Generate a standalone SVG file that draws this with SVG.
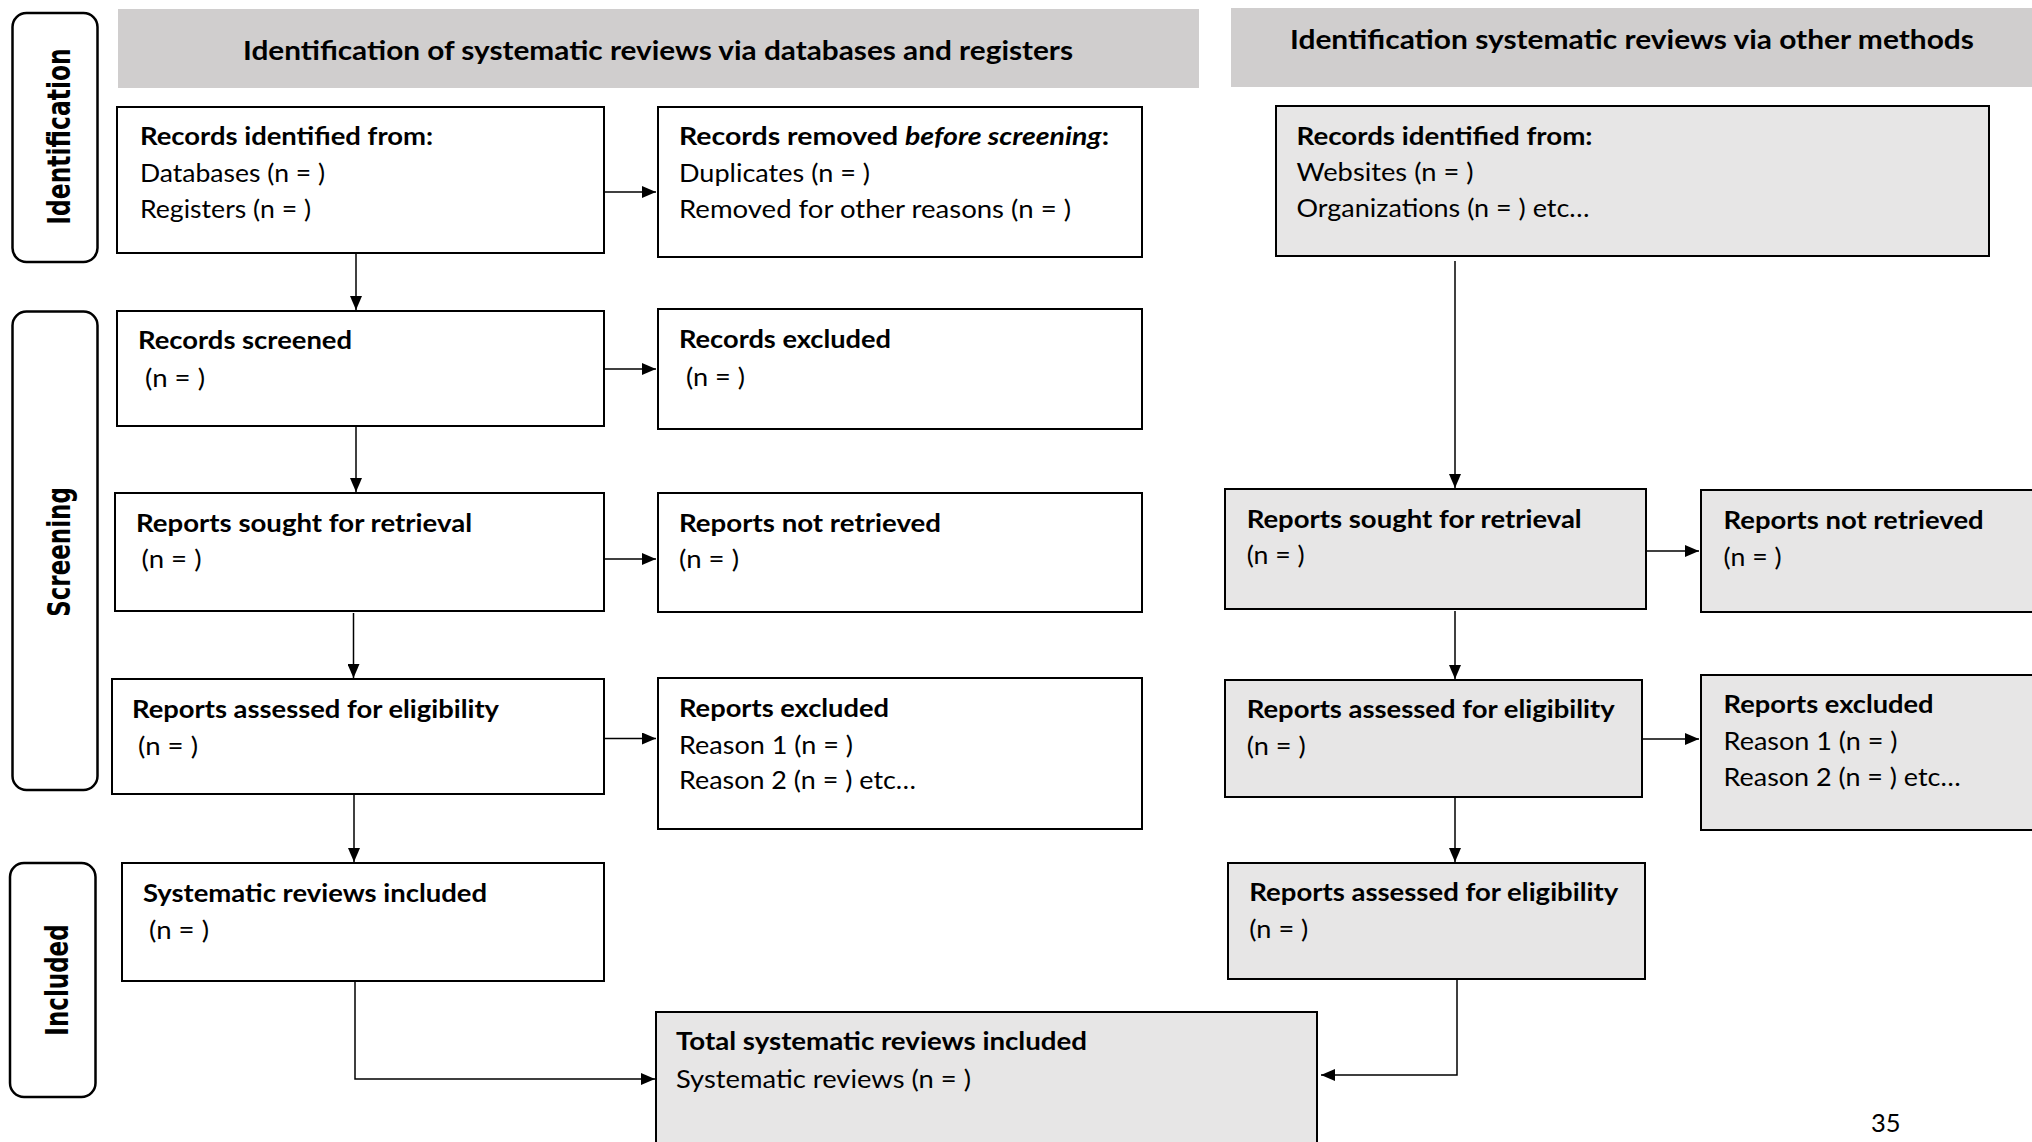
<svg xmlns="http://www.w3.org/2000/svg" width="2032" height="1142" viewBox="0 0 2032 1142">
<style>
.bg{fill:#ffffff}
.hdr{fill:#D0CECE}
.box{fill:#ffffff;stroke:#000;stroke-width:2}
.gbox{fill:#E7E6E6;stroke:#000;stroke-width:2}
.lab{fill:none;stroke:#000;stroke-width:2.5}
.t{font-family:Lato,"Liberation Sans",sans-serif;font-size:25.5px;fill:#000}
.b{font-weight:bold}
.h{font-family:Lato,"Liberation Sans",sans-serif;font-size:26.5px;font-weight:bold;fill:#000}
.side{font-family:"DejaVu Sans",sans-serif;font-weight:bold;font-size:31.5px;fill:#000}
.conn{fill:none;stroke:#000;stroke-width:1.5}
</style>
<defs>
<marker id="ah" markerUnits="userSpaceOnUse" markerWidth="14" markerHeight="12" viewBox="0 0 14 12" refX="14" refY="6" orient="auto">
<path d="M0,0 L14,6 L0,12 z" fill="#000"/>
</marker>
</defs>
<rect class="bg" x="0" y="0" width="2032" height="1142"/>

<g id="header-left">
<rect class="hdr" x="118" y="9" width="1081" height="79"/>
<text class="h" x="658" y="59.5" text-anchor="middle" textLength="830" lengthAdjust="spacingAndGlyphs">Identification of systematic reviews via databases and registers</text>
</g>
<g id="header-right">
<rect class="hdr" x="1231" y="8" width="810" height="79"/>
<text class="h" x="1632" y="48.5" text-anchor="middle" textLength="684" lengthAdjust="spacingAndGlyphs">Identification systematic reviews via other methods</text>
</g>

<g id="label-identification">
<rect class="lab" x="12.5" y="13" width="85" height="249" rx="14"/>
<text class="side" transform="translate(70,136.5) rotate(-90) scale(0.745,1)" text-anchor="middle">Identification</text>
</g>
<g id="label-screening">
<rect class="lab" x="12.5" y="311.5" width="85" height="478.5" rx="14"/>
<text class="side" transform="translate(70,552) rotate(-90) scale(0.73,1)" text-anchor="middle">Screening</text>
</g>
<g id="label-included">
<rect class="lab" x="10" y="863" width="85.5" height="234" rx="14"/>
<text class="side" transform="translate(67.5,980) rotate(-90) scale(0.73,1)" text-anchor="middle">Included</text>
</g>

<g id="box-records-identified">
<rect class="box" x="117" y="107" width="487" height="146"/>
<text class="t b" x="140" y="145" textLength="293" lengthAdjust="spacingAndGlyphs">Records identified from:</text>
<text class="t" x="140" y="181.5" textLength="185" lengthAdjust="spacingAndGlyphs">Databases (n = )</text>
<text class="t" x="140" y="218" textLength="171" lengthAdjust="spacingAndGlyphs">Registers (n = )</text>
</g>
<g id="box-records-removed">
<rect class="box" x="658" y="107" width="484" height="150"/>
<text class="t" x="679" y="145" textLength="430" lengthAdjust="spacingAndGlyphs"><tspan class="b">Records removed </tspan><tspan class="b" font-style="italic">before screening</tspan><tspan class="b">:</tspan></text>
<text class="t" x="679" y="181.5" textLength="191" lengthAdjust="spacingAndGlyphs">Duplicates (n = )</text>
<text class="t" x="679" y="218" textLength="392" lengthAdjust="spacingAndGlyphs">Removed for other reasons (n = )</text>
</g>
<g id="box-records-screened">
<rect class="box" x="117" y="311" width="487" height="115"/>
<text class="t b" x="138" y="349" textLength="214" lengthAdjust="spacingAndGlyphs">Records screened</text>
<text class="t" x="145" y="386.5" textLength="60" lengthAdjust="spacingAndGlyphs">(n = )</text>
</g>
<g id="box-records-excluded">
<rect class="box" x="658" y="309" width="484" height="120"/>
<text class="t b" x="679" y="348" textLength="212" lengthAdjust="spacingAndGlyphs">Records excluded</text>
<text class="t" x="686" y="385.5" textLength="59" lengthAdjust="spacingAndGlyphs">(n = )</text>
</g>
<g id="box-reports-sought">
<rect class="box" x="115" y="493" width="489" height="118"/>
<text class="t b" x="136" y="531.5" textLength="336" lengthAdjust="spacingAndGlyphs">Reports sought for retrieval</text>
<text class="t" x="141.5" y="568" textLength="60" lengthAdjust="spacingAndGlyphs">(n = )</text>
</g>
<g id="box-reports-not-retrieved">
<rect class="box" x="658" y="493" width="484" height="119"/>
<text class="t b" x="679" y="531.5" textLength="262" lengthAdjust="spacingAndGlyphs">Reports not retrieved</text>
<text class="t" x="679" y="568" textLength="60" lengthAdjust="spacingAndGlyphs">(n = )</text>
</g>
<g id="box-reports-assessed">
<rect class="box" x="112" y="679" width="492" height="115"/>
<text class="t b" x="132" y="718" textLength="367" lengthAdjust="spacingAndGlyphs">Reports assessed for eligibility</text>
<text class="t" x="138" y="754.5" textLength="60" lengthAdjust="spacingAndGlyphs">(n = )</text>
</g>
<g id="box-reports-excluded">
<rect class="box" x="658" y="678" width="484" height="151"/>
<text class="t b" x="679" y="717" textLength="210" lengthAdjust="spacingAndGlyphs">Reports excluded</text>
<text class="t" x="679" y="753.5" textLength="174" lengthAdjust="spacingAndGlyphs">Reason 1 (n = )</text>
<text class="t" x="679" y="788.5" textLength="237" lengthAdjust="spacingAndGlyphs">Reason 2 (n = ) etc…</text>
</g>
<g id="box-sr-included">
<rect class="box" x="122" y="863" width="482" height="118"/>
<text class="t b" x="143" y="902" textLength="344" lengthAdjust="spacingAndGlyphs">Systematic reviews included</text>
<text class="t" x="149" y="938.5" textLength="60" lengthAdjust="spacingAndGlyphs">(n = )</text>
</g>
<g id="box-total-included">
<rect class="gbox" x="656" y="1012" width="661" height="145"/>
<text class="t b" x="676" y="1050" textLength="411" lengthAdjust="spacingAndGlyphs">Total systematic reviews included</text>
<text class="t" x="676" y="1087.5" textLength="295" lengthAdjust="spacingAndGlyphs">Systematic reviews (n = )</text>
</g>

<g id="box-other-records-identified">
<rect class="gbox" x="1276" y="106" width="713" height="150"/>
<text class="t b" x="1296.5" y="144.5" textLength="296" lengthAdjust="spacingAndGlyphs">Records identified from:</text>
<text class="t" x="1296.5" y="180.5" textLength="177" lengthAdjust="spacingAndGlyphs">Websites (n = )</text>
<text class="t" x="1296.5" y="216.5" textLength="293" lengthAdjust="spacingAndGlyphs">Organizations (n = ) etc…</text>
</g>
<g id="box-other-reports-sought">
<rect class="gbox" x="1225" y="489" width="421" height="120"/>
<text class="t b" x="1246.7" y="528" textLength="335" lengthAdjust="spacingAndGlyphs">Reports sought for retrieval</text>
<text class="t" x="1246.7" y="564" textLength="58" lengthAdjust="spacingAndGlyphs">(n = )</text>
</g>
<g id="box-other-reports-not-retrieved">
<rect class="gbox" x="1701" y="490" width="345" height="122"/>
<text class="t b" x="1723.6" y="529" textLength="260" lengthAdjust="spacingAndGlyphs">Reports not retrieved</text>
<text class="t" x="1723.6" y="565.5" textLength="58" lengthAdjust="spacingAndGlyphs">(n = )</text>
</g>
<g id="box-other-reports-assessed">
<rect class="gbox" x="1225" y="680" width="417" height="117"/>
<text class="t b" x="1246.7" y="718" textLength="368" lengthAdjust="spacingAndGlyphs">Reports assessed for eligibility</text>
<text class="t" x="1246.7" y="754.5" textLength="59" lengthAdjust="spacingAndGlyphs">(n = )</text>
</g>
<g id="box-other-reports-excluded">
<rect class="gbox" x="1701" y="675" width="345" height="155"/>
<text class="t b" x="1723.6" y="713" textLength="210" lengthAdjust="spacingAndGlyphs">Reports excluded</text>
<text class="t" x="1723.6" y="749.5" textLength="174" lengthAdjust="spacingAndGlyphs">Reason 1 (n = )</text>
<text class="t" x="1723.6" y="785.5" textLength="237" lengthAdjust="spacingAndGlyphs">Reason 2 (n = ) etc…</text>
</g>
<g id="box-other-reports-assessed-2">
<rect class="gbox" x="1228" y="863" width="417" height="116"/>
<text class="t b" x="1249.3" y="901" textLength="369" lengthAdjust="spacingAndGlyphs">Reports assessed for eligibility</text>
<text class="t" x="1249.3" y="937.5" textLength="59" lengthAdjust="spacingAndGlyphs">(n = )</text>
</g>

<g id="connectors" class="conn">
<path marker-end="url(#ah)" d="M604,192 H656"/>
<path marker-end="url(#ah)" d="M356,253 V310"/>
<path marker-end="url(#ah)" d="M604,369 H656"/>
<path marker-end="url(#ah)" d="M356,427 V492"/>
<path marker-end="url(#ah)" d="M604,559 H656"/>
<path marker-end="url(#ah)" d="M353.5,613 V678"/>
<path marker-end="url(#ah)" d="M604,738.5 H656"/>
<path marker-end="url(#ah)" d="M354,795 V862"/>
<path marker-end="url(#ah)" d="M355,982 V1079 H655"/>
<path marker-end="url(#ah)" d="M1455,261 V488"/>
<path marker-end="url(#ah)" d="M1646,551 H1699"/>
<path marker-end="url(#ah)" d="M1455,611 V679"/>
<path marker-end="url(#ah)" d="M1642,739 H1699"/>
<path marker-end="url(#ah)" d="M1455,798 V862"/>
<path marker-end="url(#ah)" d="M1457,980 V1075 H1321"/>
</g>

<text class="t" x="1871" y="1131.5" font-size="27">35</text>
</svg>
